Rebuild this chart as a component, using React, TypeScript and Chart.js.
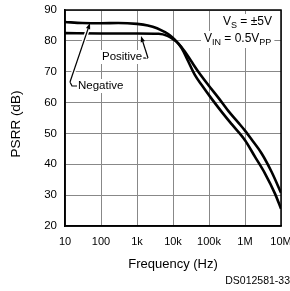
import React, { useEffect, useRef } from "react";
import { Chart, registerables } from "chart.js";

Chart.register(...registerables);

const tickValues = [10, 100, 1000, 10000, 100000, 1000000, 10000000];
const tickLabels = ["10", "100", "1k", "10k", "100k", "1M", "10M"];

const negFreq = [10, 30, 100, 300, 1000, 2000, 3600, 6000, 8000, 11400, 17500, 26600, 40800, 62700, 119000, 225000, 427000, 1000000, 1900000, 3600000, 6800000, 10000000];
const negPsrr = [86.1, 85.8, 85.7, 85.8, 85.5, 85.0, 84.1, 82.8, 81.9, 80.3, 77.6, 73.3, 68.9, 65.7, 61.2, 57.0, 53.0, 47.8, 42.4, 37.0, 30.5, 25.6];

const posFreq = [10, 100, 1000, 4000, 7000, 11000, 14000, 21500, 33000, 50500, 95500, 181000, 343000, 652000, 1000000, 1530000, 2900000, 5500000, 10000000];
const posPsrr = [82.5, 82.4, 82.4, 82.3, 81.6, 80.2, 79.2, 76.5, 73.2, 70.0, 65.7, 61.6, 57.3, 53.5, 50.9, 48.0, 43.5, 37.5, 30.8];

const FONT = "'Liberation Sans', Arial, sans-serif";

function arrow(ctx: CanvasRenderingContext2D, x1: number, y1: number, x2: number, y2: number) {
  const ang = Math.atan2(y2 - y1, x2 - x1);
  const len = Math.hypot(x2 - x1, y2 - y1);
  const hx = x1 + Math.cos(ang) * (len - 6);
  const hy = y1 + Math.sin(ang) * (len - 6);
  ctx.save();
  ctx.strokeStyle = "#fff";
  ctx.lineWidth = 4;
  ctx.beginPath();
  ctx.moveTo(x1, y1);
  ctx.lineTo(hx, hy);
  ctx.stroke();
  ctx.strokeStyle = "#000";
  ctx.lineWidth = 1.2;
  ctx.beginPath();
  ctx.moveTo(x1, y1);
  ctx.lineTo(hx, hy);
  ctx.stroke();
  ctx.fillStyle = "#000";
  ctx.beginPath();
  ctx.moveTo(x2, y2);
  ctx.lineTo(hx + Math.cos(ang + Math.PI / 2) * 2.2, hy + Math.sin(ang + Math.PI / 2) * 2.2);
  ctx.lineTo(hx + Math.cos(ang - Math.PI / 2) * 2.2, hy + Math.sin(ang - Math.PI / 2) * 2.2);
  ctx.closePath();
  ctx.fill();
  ctx.restore();
}

function subText(ctx: CanvasRenderingContext2D, parts: [string, boolean][], x: number, y: number, bg: boolean) {
  ctx.save();
  ctx.textBaseline = "middle";
  ctx.textAlign = "left";
  let w = 0;
  for (const [t, sub] of parts) {
    ctx.font = (sub ? "9px " : "12px ") + FONT;
    w += ctx.measureText(t).width;
  }
  if (bg) {
    ctx.fillStyle = "#fff";
    ctx.fillRect(x - 3, y - 8, w + 6, 17);
  }
  ctx.fillStyle = "#000";
  let cx = x;
  for (const [t, sub] of parts) {
    ctx.font = (sub ? "9px " : "12px ") + FONT;
    ctx.fillText(t, cx, sub ? y + 3.5 : y);
    cx += ctx.measureText(t).width;
  }
  ctx.restore();
}

const annotations = {
  id: "annotations",
  afterDatasetsDraw(chart: any) {
    const ctx: CanvasRenderingContext2D = chart.ctx;
    ctx.save();
    subText(ctx, [["V", false], ["S", true], [" = \u00b15V", false]], 223, 22, true);
    subText(ctx, [["V", false], ["IN", true], [" = 0.5V", false], ["PP", true]], 204, 39, true);

    ctx.font = "11.5px " + FONT;
    ctx.textBaseline = "middle";
    let w = ctx.measureText("Positive").width;
    ctx.fillStyle = "#fff";
    ctx.fillRect(100, 50, w + 4, 14);
    ctx.fillStyle = "#000";
    ctx.fillText("Positive", 102, 57);
    ctx.strokeStyle = "#000";
    ctx.lineWidth = 1.2;
    ctx.beginPath();
    ctx.moveTo(102 + w + 1, 58);
    ctx.lineTo(148, 58);
    ctx.stroke();
    arrow(ctx, 148, 58, 141, 36);

    w = ctx.measureText("Negative").width;
    ctx.fillStyle = "#fff";
    ctx.fillRect(76, 79, w + 4, 14);
    ctx.fillStyle = "#000";
    ctx.fillText("Negative", 78, 86);
    ctx.strokeStyle = "#000";
    ctx.lineWidth = 1.2;
    ctx.beginPath();
    ctx.moveTo(70, 82);
    ctx.lineTo(72, 86);
    ctx.lineTo(77, 86);
    ctx.stroke();
    arrow(ctx, 70, 82, 90, 23);

    ctx.fillStyle = "#000";
    ctx.font = "13px " + FONT;
    ctx.textAlign = "center";
    ctx.fillText("Frequency (Hz)", 173, 264);
    ctx.save();
    ctx.translate(16.5, 124);
    ctx.rotate(-Math.PI / 2);
    ctx.font = "13.5px " + FONT;
    ctx.fillText("PSRR (dB)", 0, 0);
    ctx.restore();
    ctx.font = "10.5px " + FONT;
    ctx.textAlign = "right";
    ctx.fillText("DS012581-33", 290, 281);
    ctx.restore();
  },
};

export default function App() {
  const ref = useRef<HTMLCanvasElement>(null);
  useEffect(() => {
    if (!ref.current) return;
    const chart = new Chart(ref.current, {
      type: "line",
      data: {
        datasets: [
          {
            label: "Negative",
            data: negFreq.map((f, i) => ({ x: f, y: negPsrr[i] })),
            borderColor: "#000",
            borderWidth: 2.6,
            pointRadius: 0,
            cubicInterpolationMode: "monotone",
          },
          {
            label: "Positive",
            data: posFreq.map((f, i) => ({ x: f, y: posPsrr[i] })),
            borderColor: "#000",
            borderWidth: 2.6,
            pointRadius: 0,
            cubicInterpolationMode: "monotone",
          },
        ],
      },
      options: {
        responsive: false,
        animation: false,
        layout: { padding: { left: 0, right: 9, top: 10, bottom: 0 } },
        plugins: { legend: { display: false }, tooltip: { enabled: false } },
        scales: {
          x: {
            type: "logarithmic",
            min: 10,
            max: 10000000,
            afterBuildTicks: (s: any) => {
              s.ticks = tickValues.map((v) => ({ value: v }));
            },
            afterFit: (s: any) => {
              s.height = 65;
              s.paddingLeft = 0;
              s.paddingRight = 0;
            },
            ticks: {
              autoSkip: false,
              maxRotation: 0,
              padding: 9,
              color: "#000",
              font: { family: FONT, size: 11 },
              callback: (v: any) => {
                const i = tickValues.indexOf(Number(v));
                return i >= 0 ? tickLabels[i] : "";
              },
            },
            grid: { color: "#888", lineWidth: 1, drawTicks: false },
            border: { color: "#000", width: 1.5 },
          },
          y: {
            min: 20,
            max: 90,
            afterFit: (s: any) => {
              s.width = 65;
              s.paddingTop = 0;
              s.paddingBottom = 0;
            },
            ticks: {
              stepSize: 10,
              padding: 8,
              color: "#000",
              font: { family: FONT, size: 11.5 },
            },
            grid: { color: "#888", lineWidth: 1, drawTicks: false },
            border: { color: "#000", width: 1.5 },
          },
        },
      },
      plugins: [
        annotations,
        {
          id: "frame",
          afterDraw(chart: any) {
            const { left, right, top, bottom } = chart.chartArea;
            const ctx = chart.ctx;
            ctx.save();
            ctx.strokeStyle = "#000";
            ctx.lineWidth = 1.5;
            ctx.strokeRect(left, top, right - left, bottom - top);
            ctx.restore();
          },
        },
      ],
    } as any);
    return () => chart.destroy();
  }, []);
  return (
    <div style={{ position: "absolute", left: 0, top: 0, width: 290, height: 291, background: "#fff" }}>
      <canvas ref={ref} width={290} height={291} style={{ display: "block" }} />
    </div>
  );
}
